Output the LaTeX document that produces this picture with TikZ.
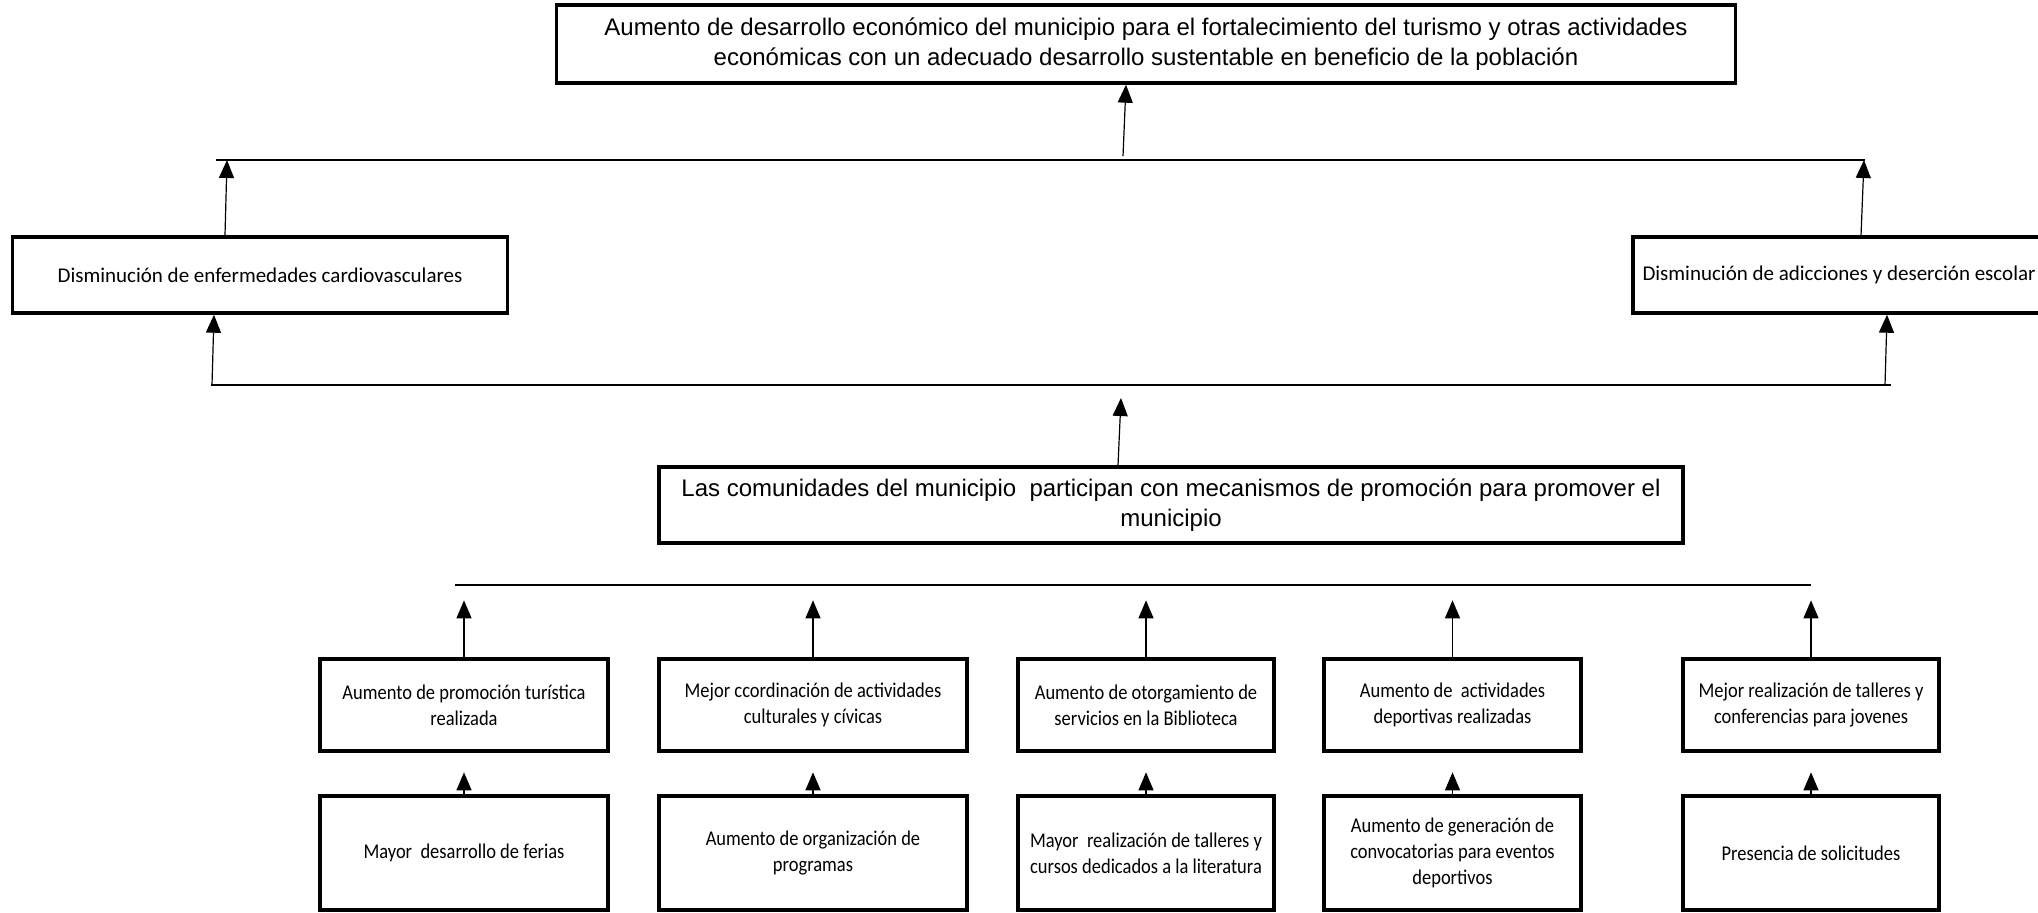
\documentclass[tikz,border=0pt]{standalone}
\usepackage{fontspec}
\setmainfont{Carlito}
\newfontfamily\arialfont{Liberation Sans}
\newfontfamily\narrowfont[FakeStretch=0.88]{Carlito}
\usetikzlibrary{arrows.meta}

\begin{document}
\begin{tikzpicture}[x=0.5pt,y=-0.5pt]
  \tikzset{BigBoxStyle/.style = {
    shape         = rectangle,
    draw          = black,
    line width    = 1.7pt,
    text          = black,
    align         = center,
    inner sep     = 2pt,
    font          = \arialfont\fontsize{12}{14.8}\selectfont
    }
  }
  \tikzset{MidBoxStyle/.style = {
    shape         = rectangle,
    draw          = black,
    line width    = 1.7pt,
    text          = black,
    align         = center,
    inner sep     = 2pt,
    minimum height = 38pt,
    font          = \fontsize{10.5}{13}\selectfont
    }
  }
  \tikzset{SmallBoxStyle/.style = {
    shape         = rectangle,
    draw          = black,
    line width    = 1.7pt,
    text          = black,
    align         = center,
    inner sep     = 2pt,
    font          = \narrowfont\fontsize{10.5}{13}\selectfont
    }
  }
  \tikzset{ArrowStyle/.style = {
    draw          = black,
    line width    = 0.6pt,
    -{Triangle[length=9pt,width=7.5pt]}
    }
  }
  \tikzset{LineStyle/.style = {
    draw          = black,
    line width    = 0.7pt
    }
  }

  \useasboundingbox (0,0) rectangle (2038,912);

  % fin
  \node[BigBoxStyle, minimum width=589.5pt, minimum height=39pt](A1) at (1146,44)
    {Aumento de desarrollo económico del municipio para el fortalecimiento del turismo y otras actividades\\
     económicas con un adecuado desarrollo sustentable en beneficio de la población};

  % efectos
  \node[MidBoxStyle, minimum width=247.5pt](C1) at (260,275) {Disminución de enfermedades cardiovasculares};
  \node[MidBoxStyle, minimum width=206pt](C2) at (1839,275) {Disminución de adicciones y deserción escolar};

  % proposito
  \node[BigBoxStyle, minimum width=512pt, minimum height=38pt](B1) at (1171,505)
    {Las comunidades del municipio\ \ participan con mecanismos de promoción para promover el\\ municipio};

  % componentes
  \node[SmallBoxStyle, minimum width=144pt, minimum height=46pt](D1) at (464,705) {Aumento de promoción turística\\ realizada};
  \node[SmallBoxStyle, minimum width=154pt, minimum height=46pt](D2) at (813,705) {Mejor ccordinación de actividades\\ culturales y cívicas};
  \node[SmallBoxStyle, minimum width=128pt, minimum height=46pt](D3) at (1146,705) {Aumento de otorgamiento de\\ servicios en la Biblioteca};
  \node[SmallBoxStyle, minimum width=128.5pt, minimum height=46pt](D4) at (1452.5,705) {Aumento de\ \ actividades\\ deportivas realizadas};
  \node[SmallBoxStyle, minimum width=128pt, minimum height=46pt](D5) at (1811,705) {Mejor realización de talleres y\\ conferencias para jovenes};

  % actividades
  \node[SmallBoxStyle, minimum width=144pt, minimum height=57pt](E1) at (464,853) {Mayor\ \ desarrollo de ferias};
  \node[SmallBoxStyle, minimum width=154pt, minimum height=57pt](E2) at (813,853) {Aumento de organización de\\ programas};
  \node[SmallBoxStyle, minimum width=128pt, minimum height=57pt](E3) at (1146,853) {Mayor\ \ realización de talleres y\\ cursos dedicados a la literatura};
  \node[SmallBoxStyle, minimum width=128.5pt, minimum height=57pt](E4) at (1452.5,853) {Aumento de generación de\\ convocatorias para eventos\\ deportivos};
  \node[SmallBoxStyle, minimum width=128pt, minimum height=57pt](E5) at (1811,853) {Presencia de solicitudes};

  % lineas horizontales
  \coordinate (P1) at (216,160);
  \coordinate (P2) at (1865,160);
  \coordinate (P3) at (211,385);
  \coordinate (P4) at (1891,385);
  \coordinate (P5) at (455,585);
  \coordinate (P6) at (1811,585);
  \draw[LineStyle] (P1) -- (P2);
  \draw[LineStyle] (P3) -- (P4);
  \draw[LineStyle] (P5) -- (P6);

  % flechas superiores
  \coordinate (Q1) at (1123,156);
  \coordinate (Q2) at (1126,0);
  \coordinate (R1) at (225,0);
  \coordinate (R2) at (227,160);
  \coordinate (S1) at (1861,0);
  \coordinate (S2) at (1864,160);
  \coordinate (U0) at (212,385);
  \coordinate (U1) at (214,0);
  \coordinate (W0) at (1885,385);
  \coordinate (W1) at (1887,0);
  \coordinate (V0) at (1118,0);
  \coordinate (V1) at (1121,398);
  \draw[ArrowStyle] (Q1) -- (Q2 |- A1.south);
  \draw[ArrowStyle] (R1 |- C1.north) -- (R2);
  \draw[ArrowStyle] (S1 |- C2.north) -- (S2);
  \draw[ArrowStyle] (U0) -- (U1 |- C1.south);
  \draw[ArrowStyle] (W0) -- (W1 |- C2.south);
  \draw[ArrowStyle] (V0 |- B1.north) -- (V1);

  % flechas inferiores
  \draw[ArrowStyle] (D1.north) -- ++(0,-57);
  \draw[ArrowStyle] (D2.north) -- ++(0,-57);
  \draw[ArrowStyle] (D3.north) -- ++(0,-57);
  \draw[ArrowStyle] (D4.north) -- ++(0,-57);
  \draw[ArrowStyle] (D5.north) -- ++(0,-57);
  \draw[ArrowStyle] (E1.north) -- ++(0,-22);
  \draw[ArrowStyle] (E2.north) -- ++(0,-22);
  \draw[ArrowStyle] (E3.north) -- ++(0,-22);
  \draw[ArrowStyle] (E4.north) -- ++(0,-22);
  \draw[ArrowStyle] (E5.north) -- ++(0,-22);

\end{tikzpicture}
\end{document}
